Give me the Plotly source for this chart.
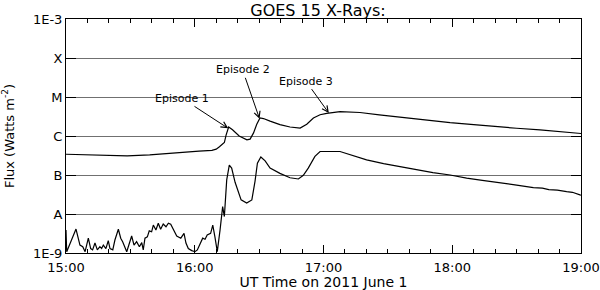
import numpy as np
import pandas as pd
import plotly.graph_objects as go

# ---- data (minutes after 15:00 UT, flux in W m^-2) ----
long_t = [0, 16, 28.5, 39, 47, 56, 62, 68, 70, 71.5, 73, 73.8, 74.6, 75.8, 77.6, 80.7,
          84.3, 85.8, 87.4, 88.9, 90.4, 92.0, 95.1, 99.7, 104.4, 109.1, 112.2, 115.3,
          118.4, 121.5, 127.7, 137, 146, 155.7, 165, 179, 190, 202.3, 210, 220.9, 230, 239.5, 240]
long_f = [3.4e-7, 3.3e-7, 3.1e-7, 3.3e-7, 3.6e-7, 3.9e-7, 4.1e-7, 4.3e-7, 4.6e-7, 5.3e-7,
          6.4e-7, 6.8e-7, 1.05e-6, 1.7e-6, 1.45e-6, 1.0e-6, 8.0e-7, 8.3e-7, 1.2e-6, 2.0e-6,
          2.9e-6, 2.8e-6, 2.4e-6, 1.95e-6, 1.7e-6, 1.6e-6, 2.0e-6, 2.9e-6, 3.5e-6, 3.8e-6,
          4.2e-6, 4.0e-6, 3.5e-6, 3.05e-6, 2.6e-6, 2.2e-6, 1.95e-6, 1.67e-6, 1.58e-6, 1.44e-6,
          1.3e-6, 1.18e-6, 1.16e-6]

short_t = [0, 0.33, 4.66, 6.5, 7.8, 8.9, 10.4, 11.5, 12.4, 13.5, 14.6, 15.8, 16.6, 17.4,
           18.6, 19.7, 20.5, 21.8, 22.8, 24.4, 25.5, 26.4, 28.3, 30.6, 31.7, 32.9, 34.2,
           35.3, 36.0, 36.8, 37.9, 38.8, 39.9, 40.7, 41.9, 43.0, 44.1, 45.3, 46.6, 47.7,
           48.8, 50.0, 51.6, 53.5, 55.0, 55.9, 57.0, 58.6, 60.1, 61.2, 62.4, 63.7, 64.8,
           65.8, 67.4, 68.4, 69.4, 70.5, 71.8, 73.0, 73.8, 74.9, 76.1, 77.2, 78.8, 80.3,
           81.6, 84.2, 86.6, 88.1, 89.2, 90.8, 92.8, 95.1, 99.7, 104.4, 108.3, 110.6, 112.9,
           116.0, 118.4, 127.7, 133, 140.1, 148, 155.7, 163.4, 171, 179.0, 186.7, 194,
           202.3, 207, 210, 217.8, 222, 225, 229, 233.3, 236, 239.5, 240]
short_f = [3.9e-9, 1.08e-9, 4.1e-9, 1.6e-9, 1.45e-9, 1.08e-9, 2.4e-9, 1.3e-9, 1.2e-9, 1.8e-9,
           1.2e-9, 1.45e-9, 1.3e-9, 1.6e-9, 1.3e-9, 2.07e-9, 1.3e-9, 1.2e-9, 2.15e-9, 4.06e-9,
           2.4e-9, 1.95e-9, 1.08e-9, 2.73e-9, 1.6e-9, 1.95e-9, 1.45e-9, 1.84e-9, 1.2e-9, 2.4e-9,
           2.6e-9, 3.7e-9, 3.5e-9, 5.2e-9, 3.9e-9, 5.8e-9, 4.06e-9, 5.55e-9, 4.7e-9, 5.8e-9,
           5.45e-9, 3.9e-9, 2.73e-9, 2.4e-9, 3.2e-9, 1.8e-9, 1.3e-9, 1.15e-9, 1.08e-9, 1.2e-9,
           1.6e-9, 2.4e-9, 2.25e-9, 2.9e-9, 3.2e-9, 5.2e-9, 2.6e-9, 1.08e-9, 3.9e-9, 1.55e-8,
           8.6e-9, 7.5e-8, 1.8e-7, 1.5e-7, 6.5e-8, 3.8e-8, 2.3e-8, 1.9e-8, 2.3e-8, 7.0e-8,
           2.0e-7, 2.9e-7, 2.3e-7, 1.5e-7, 1.1e-7, 8.5e-8, 7.9e-8, 9.8e-8, 1.5e-7, 3.0e-7,
           4.0e-7, 4.0e-7, 3.3e-7, 2.44e-7, 1.95e-7, 1.64e-7, 1.35e-7, 1.15e-7, 1.0e-7, 8.3e-8,
           7.3e-8, 6.2e-8, 5.6e-8, 5.5e-8, 4.75e-8, 4.6e-8, 4.2e-8, 4.1e-8, 3.75e-8, 3.6e-8,
           3.1e-8, 3.05e-8]

y_tickvals = [1e-9, 1e-8, 1e-7, 1e-6, 1e-5, 1e-4, 1e-3]
y_ticktext = ["1E-9", "A", "B", "C", "M", "X", "1E-3"]

episode_labels = ["Episode 1", "Episode 2", "Episode 3"]
episode_t = [75.6, 90.2, 122.5]
episode_dx = [-46, -17, -23]
episode_dy = [-30, -49, -32]

base = pd.Timestamp("2011-06-01 15:00")
def to_time(mins):
    return base + pd.to_timedelta(np.asarray(mins, dtype=float), unit="min")

FONT = "DejaVu Sans"
fig = go.Figure()
fig.add_trace(go.Scatter(x=to_time(long_t), y=long_f, mode="lines",
                         line=dict(color="black", width=1.2), showlegend=False))
fig.add_trace(go.Scatter(x=to_time(short_t), y=short_f, mode="lines",
                         line=dict(color="black", width=1.2), showlegend=False))

for lab, t, dx, dy in zip(episode_labels, episode_t, episode_dx, episode_dy):
    f = 10 ** np.interp(t, long_t, np.log10(long_f))
    fig.add_annotation(x=to_time([t])[0], y=np.log10(f), xref="x", yref="y",
                       text=lab, showarrow=True, ax=dx, ay=dy,
                       arrowhead=5, arrowsize=1.2, arrowwidth=1, arrowcolor="black",
                       font=dict(family=FONT, size=11, color="black"))

fig.update_layout(
    width=600, height=290,
    margin=dict(l=66, r=19, t=19, b=37, autoexpand=False),
    paper_bgcolor="white", plot_bgcolor="white",
    font=dict(family=FONT, size=13, color="black"),
    title=dict(text="GOES 15 X-Rays:", x=0.53, xanchor="center", y=0.965,
               yanchor="middle", font=dict(size=16, family=FONT)),
)
fig.update_xaxes(
    type="date", automargin=False,
    range=[base, base + pd.Timedelta(hours=4)],
    dtick=3600000, tickformat="%H:%M",
    ticks="inside", ticklen=8, tickcolor="black", tickwidth=1,
    minor=dict(dtick=600000, ticks="inside", ticklen=4, tickcolor="black", showgrid=False),
    showline=True, linecolor="black", linewidth=1, mirror="ticks",
    showgrid=False, zeroline=False,
    tickfont=dict(size=13), ticklabelstandoff=2,
    title=dict(text="UT Time on 2011 June 1", font=dict(size=14), standoff=0),
)
fig.update_yaxes(
    automargin=False,
    type="log", range=[-9, -3],
    tickvals=y_tickvals, ticktext=y_ticktext,
    ticks="inside", ticklen=10, tickcolor="black", tickwidth=1,
    showline=True, linecolor="black", linewidth=1, mirror="ticks",
    showgrid=True, gridcolor="#707070", gridwidth=1, zeroline=False,
    tickfont=dict(size=13),
    title=dict(text="Flux (Watts m<sup>-2</sup>)", font=dict(size=13), standoff=15),
)

fig.write_html("out.html", config={"displayModeBar": False},
               post_script="document.body.style.margin='0';document.body.style.padding='0';")
